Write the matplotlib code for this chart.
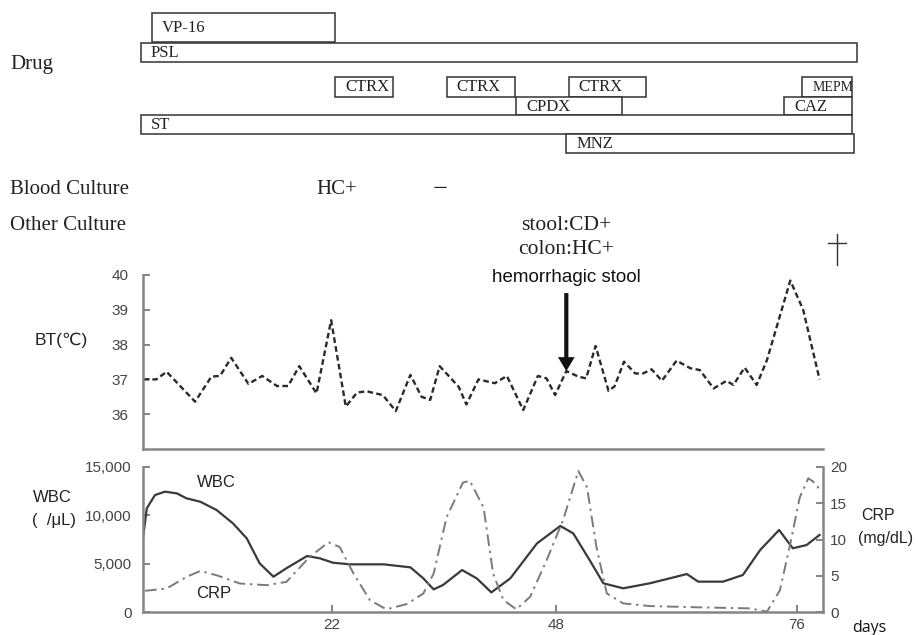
import matplotlib
matplotlib.use('Agg')
import numpy as np
import matplotlib.pyplot as plt
from matplotlib.patches import Rectangle
from matplotlib.lines import Line2D
import matplotlib.transforms as mtrans

# ---------------- data ----------------
drug_names = ["VP-16", "PSL", "CTRX", "CTRX", "CTRX", "CPDX", "MEPM", "CAZ", "ST", "MNZ"]
drug_start = [1.1, -0.2, 22.4, 35.3, 49.5, 43.4, 76.6, 74.5, -0.2, 49.2]
drug_end = [22.4, 82.9, 29.1, 43.2, 58.5, 55.7, 82.4, 82.4, 82.4, 82.6]
drug_row = [0, 1, 2, 2, 2, 3, 2, 3, 4, 5]

blood_days = [22.6, 34.6]
blood_results = ["HC+", "\u2212"]
other_day = 49.2
other_results = ["stool:CD+", "colon:HC+"]
event_label = "hemorrhagic stool"
death_day = 80.6

bt_day = [0.1, 1.6, 2.8, 6.1, 8.0, 9.0, 10.3, 12.3, 13.9, 15.6, 16.9, 18.2, 20.2, 21.9, 23.6,
          24.9, 26.0, 27.9, 29.4, 31.1, 32.4, 33.4, 34.5, 36.7, 37.6, 39.0, 40.9, 42.3, 44.2,
          45.9, 46.9, 47.9, 49.2, 50.6, 51.5, 52.6, 54.1, 54.8, 55.9, 57.2, 58.1, 59.1, 60.3,
          62.0, 63.6, 64.7, 66.3, 67.8, 68.6, 69.9, 71.3, 72.5, 75.2, 76.7, 78.6]
bt_temp = [37.0, 37.0, 37.22, 36.36, 37.08, 37.1, 37.62, 36.87, 37.1, 36.81, 36.81, 37.38, 36.6,
           38.7, 36.22, 36.62, 36.66, 36.55, 36.09, 37.13, 36.5, 36.41, 37.38, 36.79, 36.28, 37.0,
           36.89, 37.1, 36.12, 37.1, 37.03, 36.55, 37.24, 37.08, 37.03, 37.96, 36.67, 36.8, 37.51,
           37.17, 37.17, 37.29, 36.96, 37.54, 37.32, 37.27, 36.74, 36.96, 36.84, 37.34, 36.84,
           37.56, 39.84, 39.0, 37.0]

wbc_day = [0, 0.5, 1.45, 2.6, 4.0, 5.1, 6.7, 8.6, 10.5, 12.1, 13.6, 15.2, 16.7, 19.1, 20.6, 22.1,
           24.1, 28.0, 31.1, 32.6, 33.8, 34.9, 37.1, 38.8, 40.5, 42.7, 45.8, 48.5, 50.0, 51.9,
           53.5, 55.8, 58.9, 61.2, 63.2, 64.5, 67.4, 69.7, 71.7, 73.9, 75.5, 77.1, 78.6]
wbc_val = [7270, 10730, 12100, 12450, 12270, 11760, 11410, 10550, 9170, 7620, 5030, 3650, 4520,
           5790, 5550, 5100, 4930, 4930, 4620, 3480, 2340, 2800, 4340, 3480, 2030, 3480, 7100,
           8900, 8140, 5380, 2970, 2450, 2970, 3480, 3930, 3140, 3140, 3830, 6410, 8480, 6590,
           6930, 7970]

crp_day = [0.3, 2.8, 5.1, 6.7, 8.6, 11.3, 14.4, 16.7, 19.4, 21.6, 22.9, 24.5, 26.4, 28.3, 30.7,
           32.6, 33.8, 35.3, 37.2, 38.0, 39.6, 40.7, 41.9, 43.4, 45.0, 46.9, 48.8, 50.6, 51.6,
           52.7, 53.9, 55.8, 58.9, 64.7, 70.5, 72.5, 74.0, 75.2, 76.3, 77.3, 78.3, 78.6]
crp_val = [2.92, 3.24, 4.84, 5.66, 5.07, 3.93, 3.7, 4.15, 7.58, 9.63, 8.95, 5.3, 1.64, 0.37, 1.1,
           2.56, 5.3, 13.06, 17.85, 18.1, 14.4, 5.3, 1.64, 0.37, 2.1, 7.1, 12.6, 19.45, 17.2,
           8.95, 2.56, 1.19, 0.82, 0.64, 0.5, 0.05, 3.0, 9.4, 15.8, 18.45, 17.6, 16.5]

day_ticks = [22, 48, 76]
bt_ticks = [36, 37, 38, 39, 40]
wbc_ticks = [0, 5000, 10000, 15000]
wbc_tick_labels = ["0", "5,000", "10,000", "15,000"]
crp_ticks = [0, 5, 10, 15, 20]

# ---------------- layout ----------------
W, H = 918, 635
fig = plt.figure(figsize=(W / 100, H / 100), dpi=100)
def fx(x): return x / W
def fy(y): return 1 - y / H

L, R = 142.5, 823
XMAX = 79
SERIF = ['Liberation Serif', 'DejaVu Serif']
SANS = ['Liberation Sans', 'DejaVu Sans']
SPINE = '#858585'
TXT = '#222222'
TICKTXT = '#444444'

ax_d = fig.add_axes([fx(L), fy(160), (R - L) / W, 160 / H])
ax_bt = fig.add_axes([fx(L), fy(449), (R - L) / W, (449 - 275) / H])
ax_w = fig.add_axes([fx(L), fy(612), (R - L) / W, (612 - 467) / H])

# ---------------- drug boxes ----------------
row_spans = [(12.7, 42.3), (43.3, 61.7), (76.7, 96.7), (96.7, 115.0), (115.0, 134.0), (134.0, 153.3)]
ax_d.set_xlim(0, XMAX)
ax_d.set_ylim(160, 0)
ax_d.axis('off')
for name, s, e, r in zip(drug_names, drug_start, drug_end, drug_row):
    top, bot = row_spans[r]
    ax_d.add_patch(Rectangle((s, top), e - s, bot - top, facecolor='white',
                             edgecolor='#333333', lw=1.1, clip_on=False))
    ax_d.annotate(name, (s, (top + bot) / 2), xytext=(7, -0.5), textcoords='offset points',
                  ha='left', va='center', family=SERIF,
                  fontsize=10 if name == "MEPM" else 12, color=TXT, annotation_clip=False)

# ---------------- left labels ----------------
fig.text(fx(10), fy(65), "Drug", ha='left', va='center', family=SERIF, fontsize=15, color=TXT)
fig.text(fx(10), fy(190), "Blood Culture", ha='left', va='center', family=SERIF, fontsize=15, color=TXT)
fig.text(fx(10), fy(225), "Other Culture", ha='left', va='center', family=SERIF, fontsize=15, color=TXT)

trans = mtrans.blended_transform_factory(ax_bt.transData, fig.transFigure)
for d, res in zip(blood_days, blood_results):
    ax_bt.text(d, fy(190), res, transform=trans, ha='center', va='center', family=SERIF,
               fontsize=15 if res == "HC+" else 19, color=TXT)
for i, res in enumerate(other_results):
    ax_bt.text(other_day, fy(225 + 25 * i), res, transform=trans, ha='center', va='center',
               family=SERIF, fontsize=15.5, color=TXT)
ax_bt.text(other_day, fy(277), event_label, transform=trans, ha='center', va='center',
           family=SANS, fontsize=13.5, color='#111111')

# death cross
fig.add_artist(Line2D([death_day, death_day], [fy(234), fy(265)], transform=trans, color='#333', lw=1.0))
fig.add_artist(Line2D([death_day - 1.05, death_day + 1.05], [fy(243), fy(243)], transform=trans, color='#333', lw=1.0))

# ---------------- BT panel ----------------
ax_bt.plot(bt_day, bt_temp, color='#2a2a2a', lw=1.7, ls=(0, (2.4, 1.4)))
ax_bt.set_xlim(0, XMAX)
ax_bt.set_ylim(35, 40)
ax_bt.set_yticks(bt_ticks)
ax_bt.set_xticks([])
for s in ['top', 'right']:
    ax_bt.spines[s].set_visible(False)
for s in ['left', 'bottom']:
    ax_bt.spines[s].set_color(SPINE)
    ax_bt.spines[s].set_linewidth(1.8)
ax_bt.tick_params(axis='y', direction='in', length=5, width=1.4, color=SPINE,
                  labelcolor=TICKTXT, labelsize=11, pad=10)
for t in ax_bt.get_yticklabels():
    t.set_family(SANS)
ax_bt.patch.set_alpha(0)

tip_temp = float(np.interp(other_day, bt_day, bt_temp))
ax_bt.annotate('', xy=(other_day, tip_temp), xytext=(other_day, 39.48),
               arrowprops=dict(arrowstyle='simple,head_length=0.5,head_width=0.6,tail_width=0.15',
                               mutation_scale=20, facecolor='#111111', edgecolor='none',
                               shrinkA=0, shrinkB=0), annotation_clip=False)

fig.text(fx(61.5), fy(340), "BT(\u2103)", ha='center', va='center', family=SANS, fontsize=12.5, color=TXT)

# ---------------- WBC / CRP panel ----------------
ax_c = ax_w.twinx()
ax_w.plot(wbc_day, wbc_val, color='#3a3a3a', lw=1.6)
ax_c.plot(crp_day, crp_val, color='#7a7a7a', lw=1.4, ls=(0, (6, 2.5, 1.2, 2.5)))
ax_w.set_xlim(0, XMAX)
ax_w.set_ylim(0, 15000)
ax_c.set_ylim(0, 20)
ax_w.set_xticks(day_ticks)
ax_w.set_xticklabels([str(d) for d in day_ticks])
ax_w.set_yticks(wbc_ticks)
ax_w.set_yticklabels(wbc_tick_labels)
ax_c.set_yticks(crp_ticks)
ax_c.set_yticklabels([str(v) for v in crp_ticks])
for a in (ax_w, ax_c):
    a.spines['top'].set_visible(False)
    for s in ['left', 'bottom', 'right']:
        a.spines[s].set_color(SPINE)
        a.spines[s].set_linewidth(1.8)
ax_w.spines['right'].set_visible(False)
ax_c.spines['left'].set_visible(False)
ax_c.spines['bottom'].set_visible(False)
ax_w.tick_params(axis='both', direction='in', length=5, width=1.4, color=SPINE,
                 labelcolor=TICKTXT, labelsize=11)
ax_w.tick_params(axis='y', pad=8)
ax_w.tick_params(axis='x', pad=4)
ax_c.tick_params(axis='y', direction='in', length=5, width=1.4, color=SPINE,
                 labelcolor=TICKTXT, labelsize=11, pad=5)
for t in ax_w.get_xticklabels() + ax_w.get_yticklabels() + ax_c.get_yticklabels():
    t.set_family(SANS)

ax_w.text(8.6, 13345, "WBC", ha='center', va='center', family=SANS, fontsize=12, color=TXT)
ax_w.text(8.3, 1965, "CRP", ha='center', va='center', family=SANS, fontsize=12, color=TXT)

fig.text(fx(52), fy(498), "WBC", ha='center', va='center', family=SANS, fontsize=12, color=TXT)
fig.text(fx(54), fy(520), "(  /\u03bcL)", ha='center', va='center', family=SANS, fontsize=12, color=TXT)
fig.text(fx(878), fy(515), "CRP", ha='center', va='center', family=SANS, fontsize=11.5, color=TXT)
fig.text(fx(886), fy(538), "(mg/dL)", ha='center', va='center', family=SANS, fontsize=11.5, color=TXT)
fig.text(fx(869), fy(628), "days", ha='center', va='center', family=['Open Sans', 'DejaVu Sans'], fontsize=11.5, color='#111')

fig.savefig('out.png', dpi=100)
